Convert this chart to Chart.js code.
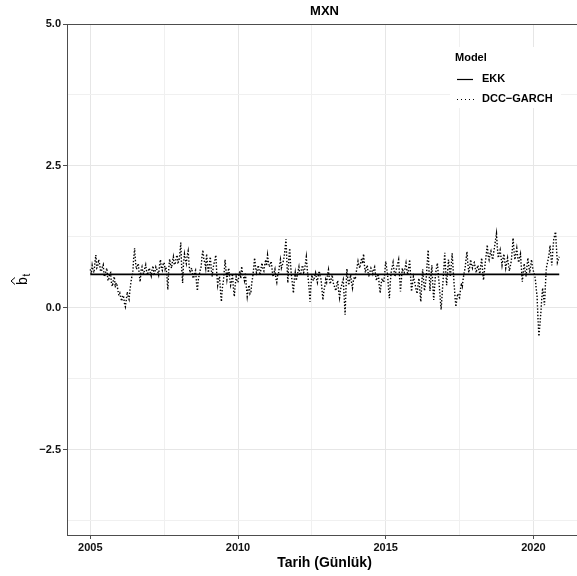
<!DOCTYPE html>
<html>
<head>
<meta charset="utf-8">
<script src="https://cdn.jsdelivr.net/npm/chart.js@4/dist/chart.umd.min.js"></script>
<style>
  html, body { margin: 0; padding: 0; background: #fff; }
  #wrap { width: 577px; height: 576px; position: relative; }
</style>
</head>
<body>
<div id="wrap"><canvas id="c" width="577" height="576"></canvas></div>
<script>
// MXN: time-varying beta estimates, OLS (EKK) vs DCC-GARCH
const chartTitle = 'MXN';
const xTitle = 'Tarih (Günlük)';
const seriesNames = ['EKK', 'DCC\u2212GARCH'];
const legendTitle = 'Model';

// DCC-GARCH beta, sampled 32 times per year starting 2005.0 (one row per year)
const dccStart = 2005;
const dccPerYear = 32;
const dccValues = [
  0.68,0.60, 0.75,0.66, 0.62,0.80, 0.93,0.70, 0.72,0.85, 0.78,0.66, 0.64,0.72, 0.76,0.55, 0.58,0.66, 0.70,0.48, 0.50,0.60, 0.62,0.42, 0.38,0.50, 0.55,0.36, 0.44,0.40, 0.30,0.22,
  0.26,0.18, 0.12,0.22, 0.20,0.08, 0.02,0.14, 0.28,0.20, 0.15,0.32, 0.45,0.55, 0.62,0.88, 1.05,0.80, 0.68,0.74, 0.78,0.60, 0.46,0.66, 0.72,0.62, 0.60,0.70, 0.76,0.64, 0.58,0.66,
  0.70,0.62, 0.56,0.68, 0.74,0.60, 0.62,0.72, 0.68,0.64, 0.58,0.75, 0.85,0.70, 0.66,0.78, 0.80,0.68, 0.72,0.55, 0.32,0.70, 0.86,0.75, 0.70,0.82, 0.90,0.76, 0.78,0.88, 0.93,0.80,
  0.82,0.95, 1.15,0.70, 0.44,0.80, 0.95,0.85, 0.78,0.92, 1.00,0.76, 0.62,0.68, 0.70,0.55, 0.52,0.62, 0.66,0.45, 0.30,0.50, 0.58,0.66, 0.72,0.90, 1.02,0.85, 0.80,0.70, 0.95,0.75,
  0.62,0.78, 0.90,0.68, 0.55,0.70, 0.78,0.85, 0.93,0.60, 0.40,0.50, 0.55,0.30, 0.11,0.35, 0.45,0.62, 0.85,0.66, 0.50,0.62, 0.70,0.52, 0.40,0.48, 0.60,0.35, 0.20,0.40, 0.55,0.48,
  0.45,0.58, 0.65,0.52, 0.73,0.60, 0.55,0.48, 0.62,0.38, 0.20,0.32, 0.40,0.25, 0.28,0.45, 0.55,0.70, 0.88,0.72, 0.62,0.68, 0.75,0.64, 0.58,0.70, 0.79,0.68, 0.65,0.76, 0.85,0.74,
  0.93,0.80, 0.72,0.78, 0.82,0.66, 0.55,0.62, 0.68,0.52, 0.45,0.58, 0.62,0.75, 0.85,0.70, 0.75,0.82, 0.90,1.05, 1.21,0.80, 0.44,0.85, 1.05,0.75, 0.55,0.42, 0.26,0.50, 0.62,0.48,
  0.55,0.64, 0.72,0.58, 0.60,0.70, 0.75,0.62, 0.65,0.78, 0.90,0.68, 0.52,0.35, 0.11,0.40, 0.58,0.50, 0.48,0.56, 0.62,0.52, 0.45,0.58, 0.65,0.55, 0.50,0.32, 0.14,0.30, 0.38,0.50,
  0.45,0.58, 0.67,0.50, 0.42,0.52, 0.58,0.45, 0.40,0.35, 0.30,0.42, 0.48,0.30, 0.18,0.32, 0.38,0.45, 0.50,0.20, -0.12,0.35, 0.69,0.50, 0.40,0.50, 0.58,0.44, 0.35,0.48, 0.55,0.50,
  0.62,0.72, 0.82,0.74, 0.70,0.80, 0.88,0.78, 0.95,0.75, 0.62,0.70, 0.75,0.62, 0.55,0.64, 0.70,0.66, 0.60,0.68, 0.72,0.58, 0.48,0.55, 0.60,0.40, 0.26,0.42, 0.52,0.48, 0.45,0.62,
  0.82,0.70, 0.60,0.35, 0.17,0.45, 0.65,0.72, 0.80,0.66, 0.55,0.64, 0.72,0.78, 0.85,0.55, 0.29,0.50, 0.70,0.64, 0.62,0.70, 0.79,0.66, 0.58,0.72, 0.85,0.55, 0.29,0.42, 0.55,0.48,
  0.40,0.32, 0.25,0.40, 0.52,0.30, 0.11,0.40, 0.68,0.50, 0.30,0.42, 0.55,0.80, 1.02,0.62, 0.30,0.55, 0.75,0.40, 0.14,0.38, 0.60,0.70, 0.79,0.58, 0.40,0.18, -0.03,0.20, 0.45,0.70,
  0.97,0.65, 0.40,0.62, 0.85,0.70, 0.55,0.75, 0.96,0.70, 0.45,0.22, 0.02,0.15, 0.25,0.20, 0.18,0.32, 0.44,0.38, 0.52,0.62, 0.70,0.85, 0.99,0.78, 0.62,0.72, 0.85,0.75, 0.70,0.78,
  0.80,0.70, 0.62,0.70, 0.75,0.66, 0.60,0.75, 0.88,0.65, 0.49,0.66, 0.82,0.95, 1.11,0.92, 0.85,0.95, 1.00,0.90, 0.85,0.98, 1.08,1.20, 1.31,1.05, 0.88,0.95, 1.02,0.88, 0.75,0.86,
  0.95,0.82, 0.70,0.80, 0.88,0.75, 0.65,0.74, 0.82,1.00, 1.23,1.00, 0.85,0.95, 1.05,0.90, 0.80,0.88, 0.95,0.70, 0.46,0.62, 0.78,0.66, 0.55,0.72, 0.88,0.74, 0.62,0.74, 0.85,0.72,
  0.65,0.60, 0.52,0.35, 0.20,-0.20, -0.50,-0.30, -0.10,0.15, 0.35,0.20, 0.05,0.40, 0.70,0.78, 0.85,0.95, 1.10,0.90, 0.75,1.00, 1.20,1.28, 1.34,1.05, 0.80,0.85, 0.90
];

// Constant OLS beta over the full sample
const ekkValue = 0.59;
const ekkSpan = [2005, 2020.875];

// Axis ticks (major labelled, minor unlabelled)
const xTicks = [2005, 2007.5, 2010, 2012.5, 2015, 2017.5, 2020];
const xLabels = { 2005: '2005', 2010: '2010', 2015: '2015', 2020: '2020' };
const yTicks = [-3.75, -2.5, -1.25, 0, 1.25, 2.5, 3.75, 5];
const yLabels = { '-2.5': '\u22122.5', '0': '0.0', '2.5': '2.5', '5': '5.0' };

const dccData = dccValues.map((v, i) => ({ x: dccStart + i / dccPerYear, y: v }));
const ekkData = ekkSpan.map(x => ({ x, y: ekkValue }));

const FONT = '"Liberation Sans", Arial, sans-serif';
const isMajorX = v => xLabels[v] !== undefined;
const isMajorY = v => yLabels[String(v)] !== undefined;

const decorations = {
  id: 'decorations',
  beforeDatasetsDraw(chart) {
    const ctx = chart.ctx;
    ctx.save();
    // legend background
    ctx.fillStyle = '#ffffff';
    ctx.fillRect(450, 47, 111, 61);
    ctx.restore();
  },
  afterDraw(chart) {
    const ctx = chart.ctx;
    const a = chart.chartArea;
    ctx.save();
    // top panel border
    ctx.strokeStyle = '#4d4d4d';
    ctx.lineWidth = 1;
    ctx.beginPath();
    ctx.moveTo(a.left, a.top + 0.5);
    ctx.lineTo(a.right, a.top + 0.5);
    ctx.stroke();

    // title
    const panelCenter = 324.5;
    ctx.fillStyle = '#000';
    ctx.font = 'bold 13px ' + FONT;
    ctx.textAlign = 'center';
    ctx.textBaseline = 'middle';
    ctx.fillText(chartTitle, panelCenter, 11);

    // x axis title
    ctx.font = 'bold 14px ' + FONT;
    ctx.fillText(xTitle, panelCenter, 563);

    // y axis title: b-hat with subscript t
    ctx.save();
    ctx.translate(27, 281);
    ctx.rotate(-Math.PI / 2);
    ctx.font = '14px ' + FONT;
    ctx.textAlign = 'center';
    ctx.textBaseline = 'alphabetic';
    ctx.fillText('b', 0, 0);
    ctx.strokeStyle = '#000';
    ctx.lineWidth = 1;
    ctx.beginPath();
    ctx.moveTo(-3.5, -12);
    ctx.lineTo(0, -16);
    ctx.lineTo(3.5, -12);
    ctx.stroke();
    ctx.font = '10px ' + FONT;
    ctx.textAlign = 'left';
    ctx.fillText('t', 4.5, 3);
    ctx.restore();

    // legend
    ctx.fillStyle = '#000';
    ctx.font = 'bold 11px ' + FONT;
    ctx.textAlign = 'left';
    ctx.textBaseline = 'middle';
    ctx.fillText(legendTitle, 455, 58);
    ctx.fillText(seriesNames[0], 482, 79);
    ctx.fillText(seriesNames[1], 482, 99);
    ctx.strokeStyle = '#000';
    ctx.lineWidth = 1.2;
    ctx.beginPath();
    ctx.moveTo(457, 79.5);
    ctx.lineTo(473, 79.5);
    ctx.stroke();
    ctx.setLineDash([1, 3]);
    ctx.lineWidth = 1;
    ctx.beginPath();
    ctx.moveTo(457, 99.5);
    ctx.lineTo(474, 99.5);
    ctx.stroke();
    ctx.restore();
  }
};

new Chart(document.getElementById('c'), {
  type: 'line',
  data: {
    datasets: [
      {
        label: seriesNames[1],
        data: dccData,
        borderColor: '#000',
        borderWidth: 1.4,
        borderDash: [1.4, 1.8],
        pointRadius: 0,
        tension: 0,
        fill: false
      },
      {
        label: seriesNames[0],
        data: ekkData,
        borderColor: '#000',
        borderWidth: 1.8,
        pointRadius: 0,
        tension: 0,
        fill: false
      }
    ]
  },
  options: {
    responsive: false,
    animation: false,
    layout: { padding: { top: 24, right: 0, left: 0, bottom: 0 } },
    plugins: {
      legend: { display: false },
      title: { display: false },
      tooltip: { enabled: false }
    },
    scales: {
      x: {
        type: 'linear',
        min: 2004.211,
        max: 2021.476,
        afterBuildTicks: s => { s.ticks = xTicks.map(v => ({ value: v })); },
        afterFit: s => { s.height = 41; },
        ticks: {
          autoSkip: false,
          maxRotation: 0,
          padding: 2,
          color: '#111',
          font: { family: FONT, size: 11, weight: 'bold' },
          callback: v => xLabels[v] || ''
        },
        grid: {
          color: c => isMajorX(c.tick.value) ? '#e6e6e6' : '#f0f0f0',
          lineWidth: 1,
          tickLength: 4,
          tickColor: c => isMajorX(c.tick.value) ? '#4d4d4d' : 'rgba(0,0,0,0)'
        },
        border: { display: true, color: '#4d4d4d', width: 1 }
      },
      y: {
        type: 'linear',
        min: -4,
        max: 5,
        afterBuildTicks: s => { s.ticks = yTicks.map(v => ({ value: v })); },
        afterFit: s => { s.width = 67; },
        ticks: {
          autoSkip: false,
          padding: 2,
          color: '#111',
          font: { family: FONT, size: 11, weight: 'bold' },
          callback: v => yLabels[String(v)] || ''
        },
        grid: {
          color: c => isMajorY(c.tick.value) ? '#e6e6e6' : '#f0f0f0',
          lineWidth: 1,
          tickLength: 4,
          tickColor: c => isMajorY(c.tick.value) ? '#4d4d4d' : 'rgba(0,0,0,0)'
        },
        border: { display: true, color: '#4d4d4d', width: 1 }
      }
    }
  },
  plugins: [decorations]
});
</script>
</body>
</html>
